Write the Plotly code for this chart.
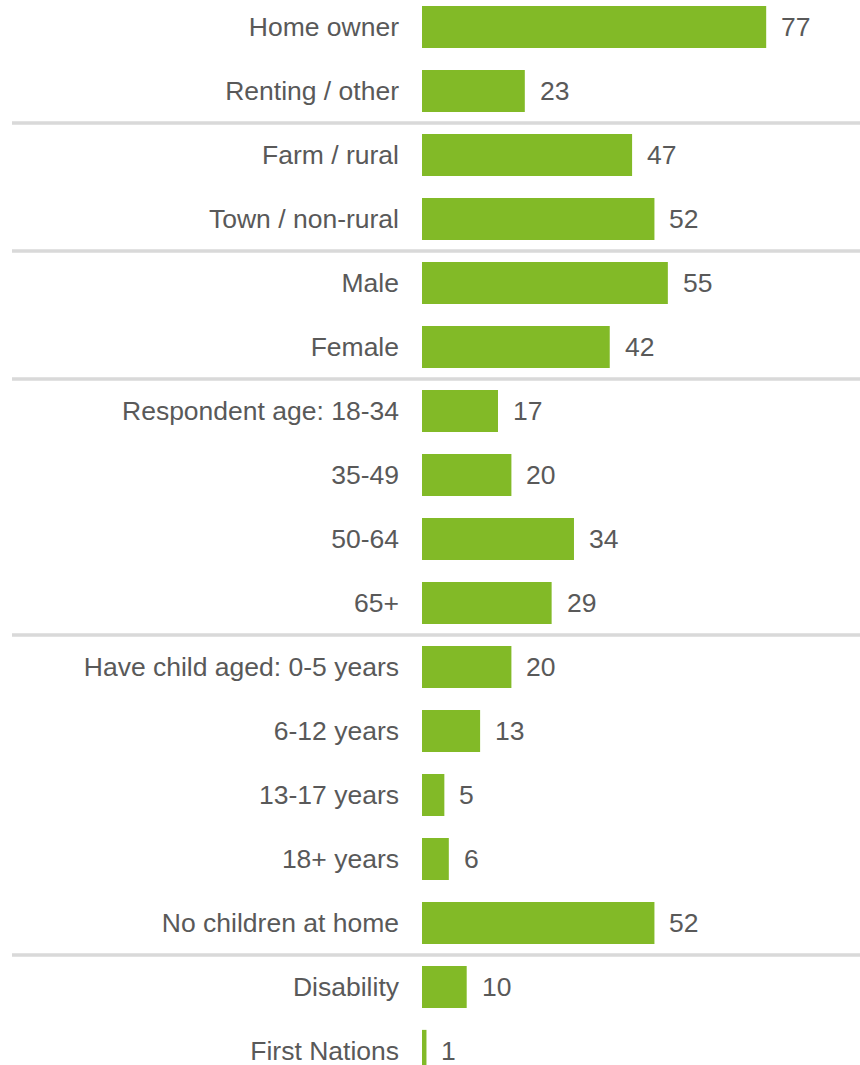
import plotly.graph_objects as go

categories = [
    "Home owner", "Renting / other",
    "Farm / rural", "Town / non-rural",
    "Male", "Female",
    "Respondent age: 18-34", "35-49", "50-64", "65+",
    "Have child aged: 0-5 years", "6-12 years", "13-17 years", "18+ years",
    "No children at home",
    "Disability", "First Nations",
]
values = [77, 23, 47, 52, 55, 42, 17, 20, 34, 29, 20, 13, 5, 6, 52, 10, 1]
group_breaks = [1.5, 3.5, 5.5, 9.5, 14.5]

GREEN = "#82BA27"
TEXT = "#595959"
FONT = "Liberation Sans, Arial, sans-serif"
FS = 26.5

FIG_W = 860
FIG_H = 1065
L = 422
W = FIG_W - L
PX_PER_UNIT = 4.47
ROW = 64
FIRST = 27

idx = list(range(len(categories)))

fig = go.Figure()
fig.add_trace(go.Bar(
    x=values, y=idx, orientation="h",
    marker=dict(color=GREEN, line=dict(width=0)),
    width=0.66, hoverinfo="skip",
))

for i, v in zip(idx, values):
    fig.add_annotation(
        x=v, y=i, xref="x", yref="y", text=str(v), showarrow=False,
        xanchor="left", yanchor="middle", xshift=13, yshift=0,
        font=dict(family=FONT, size=FS, color=TEXT),
    )

for b in group_breaks:
    fig.add_shape(
        type="line", xref="paper", yref="y",
        x0=(12 - L) / W, x1=1.0, y0=b, y1=b,
        line=dict(color="#D9D9D9", width=3.5),
    )

fig.update_layout(
    width=FIG_W, height=FIG_H,
    margin=dict(l=L, r=0, t=0, b=0),
    plot_bgcolor="white", paper_bgcolor="white",
    showlegend=False,
    font=dict(family=FONT, size=FS, color=TEXT),
    xaxis=dict(range=[0, W / PX_PER_UNIT], visible=False, fixedrange=True),
    yaxis=dict(
        range=[(FIG_H - FIRST) / ROW, -FIRST / ROW],
        tickmode="array", tickvals=idx, ticktext=categories,
        showgrid=False, zeroline=False, showline=False, ticks="",
        ticklabelstandoff=22, ticklabeloverflow="allow",
        tickfont=dict(family=FONT, size=FS, color=TEXT),
        fixedrange=True,
    ),
)

fig.write_html(
    "out.html",
    config={"displayModeBar": False},
    post_script="document.body.style.margin='0';document.body.style.overflow='hidden';",
)
